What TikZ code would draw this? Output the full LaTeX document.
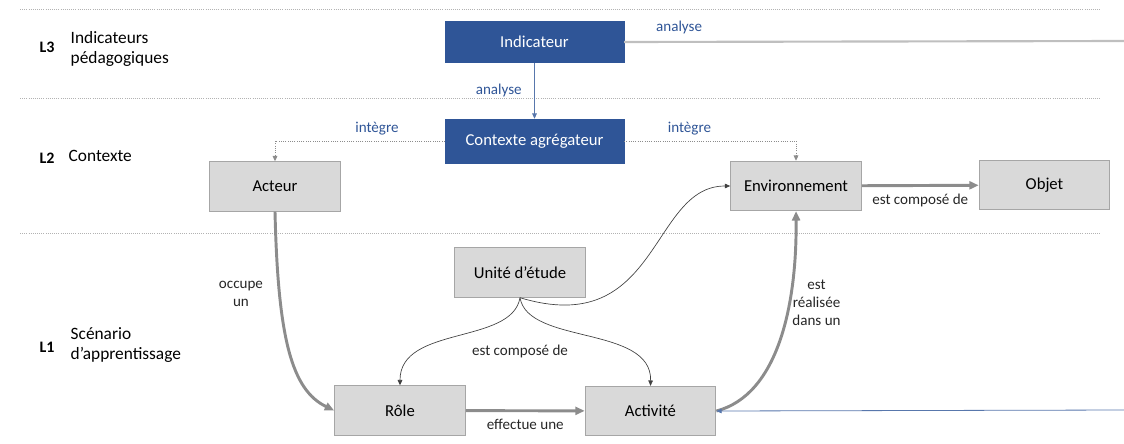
\documentclass[tikz,border=0pt]{standalone}
\usepackage{fontspec}
\setmainfont{Carlito}
\usepackage{tikz}
\usetikzlibrary{arrows.meta,positioning}

\definecolor{bluebox}{HTML}{2F5597}
\definecolor{greybox}{HTML}{D9D9D9}
\definecolor{greyline}{HTML}{8C8C8C}

\begin{document}
\begin{tikzpicture}[
    x=0.75pt, y=-0.75pt,
    greynode/.style={draw=black!35, fill=greybox, line width=0.8pt, minimum width=98pt, minimum height=37pt, font=\fontsize{12.5}{15}\selectfont},
    bluenode/.style={draw=bluebox, fill=bluebox, text=white, minimum width=134pt, minimum height=31pt, font=\fontsize{12.5}{15}\selectfont},
    layertext/.style={align=left, anchor=west, font=\fontsize{13}{15.5}\selectfont},
    layertag/.style={font=\bfseries\fontsize{12}{14}\selectfont},
    lbl/.style={font=\fontsize{11.3}{13.5}\selectfont, align=center, text=black!85},
    bluelbl/.style={lbl, text=bluebox},
    sepline/.style={densely dotted, black!30, line width=0.6pt},
    thickedge/.style={-{Triangle[length=7pt,width=6pt]}, greyline, line width=2.2pt},
    thinedge/.style={-{Triangle[length=4pt,width=3.5pt]}, black!75, line width=0.5pt},
    blueedge/.style={-{Triangle[length=4pt,width=3.5pt]}, bluebox!80, line width=0.6pt},
    dotedge/.style={-{Triangle[length=4pt,width=3.5pt]}, densely dotted, black!45, line width=0.7pt}
]
\useasboundingbox (0,0) rectangle (1124,443);

% separations between layers
\foreach \y in {9,98,233}
    \draw[sepline] (20,\y) -- (1100,\y);

% layers
\node[layertag] (L3) at (47,47) {L3};
\node[layertext] (L3txt) at (66,49) {Indicateurs\\pédagogiques};
\node[layertag] (L2) at (47,158) {L2};
\node[layertext] (L2txt) at (64,156) {Contexte};
\node[layertag] (L1) at (47,347) {L1};
\node[layertext] (L1txt) at (66,345) {Scénario\\d’apprentissage};

% nodes
\node[bluenode] (ind) at (534.5,42) {Indicateur};
\node[bluenode, minimum height=33pt] (ctx) at (534.5,141) {Contexte agrégateur};
\node[greynode] (act) at (275,186.5) {Acteur};
\node[greynode] (env) at (796,186) {Environnement};
\node[greynode] (obj) at (1044.5,185) {Objet};
\node[greynode] (unit) at (520,272.5) {Unité d’étude};
\node[greynode] (role) at (400,410.5) {Rôle};
\node[greynode] (acti) at (650.5,411) {Activité};

\coordinate (indout) at (1124,41);
\coordinate (actin) at (1124,410);

% edges
\draw[blueedge] (ind) -- (ctx) node[bluelbl, midway, left=6pt] {analyse};
\draw[black!25, line width=1.6pt] (ind.east) -- (indout) node[bluelbl, pos=0.11, above=2pt] {analyse};
\draw[dotedge] (ctx.west) -| (act.north) node[bluelbl, pos=0.2, above=1pt] {intègre};
\draw[dotedge] (ctx.east) -| (env.north) node[bluelbl, pos=0.19, above=1pt] {intègre};

\draw[thickedge] (act.south) .. controls (278,340) and (292,390) .. (role.west)
    node[lbl, pos=0.25, left=8pt] {occupe\\un};
\draw[thickedge] (role) -- (acti) node[lbl, midway, below=2pt] {effectue une};
\draw[thickedge] (acti.east) .. controls (778,395) and (797,305) .. (env.south)
    node[lbl, pos=0.66, right=-2pt] {est\\réalisée\\dans un};
\draw[thickedge] (env) -- (obj) node[lbl, midway, below=2pt] {est composé de};

\draw[thinedge] (unit.south) .. controls (512,345) and (400,325) .. (role.north);
\draw[thinedge] (unit.south) .. controls (528,345) and (652,325) .. (acti.north);
\node[lbl] (complbl) at (520,351) {est composé de};
\draw[thinedge] (unit.south) .. controls (660,340) and (650,186) .. (env.west);

\draw[blueedge] (actin) -- (acti.east);
\end{tikzpicture}
\end{document}
